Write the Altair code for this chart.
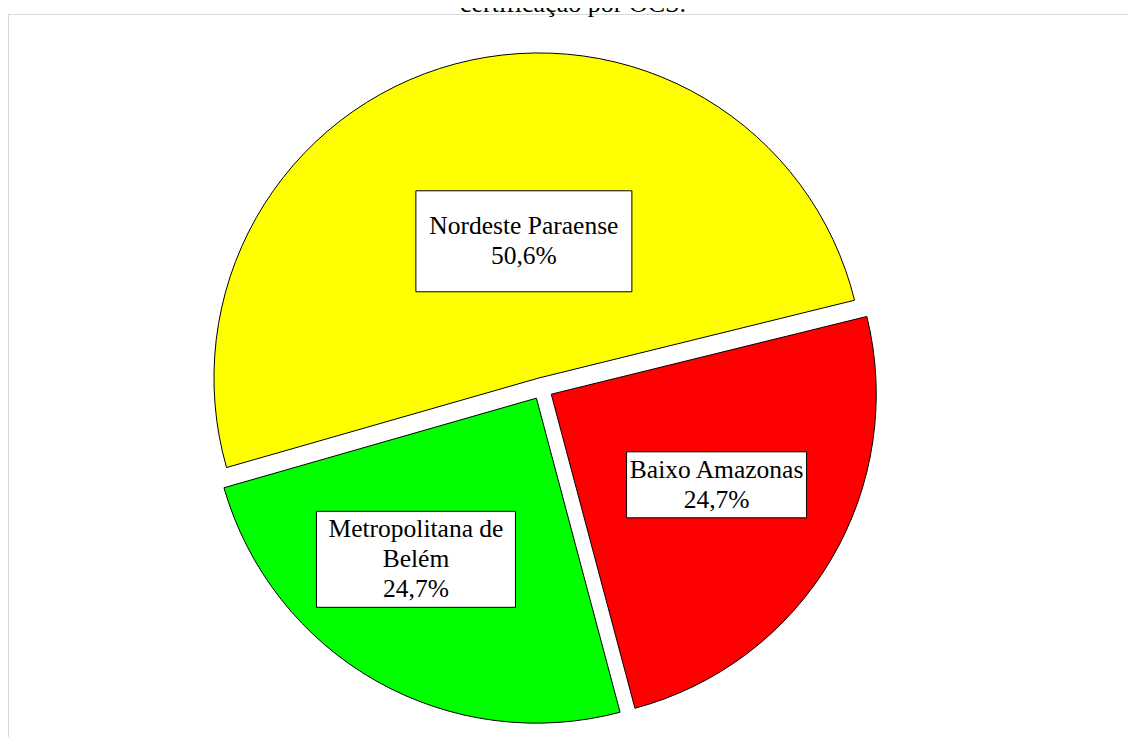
import math
import textwrap
import altair as alt
import pandas as pd

# ---- data ----
title_text = "certificação por OCS."
categories = ["Nordeste Paraense", "Baixo Amazonas", "Metropolitana de Belém"]
shares = [50.6, 24.7, 24.7]
colors = ["#FFFF00", "#FF0000", "#00FF00"]

# ---- layout / style ----
W, H = 1120, 729
CX, CY = 533.8, 380.6        # pie centre (canvas px)
R = 325                      # pie radius
EXPLODE = 11                 # slice explosion distance
START = math.radians(254.0)  # angle of first slice
FONT = "Liberation Serif"
FS = 25.5
LH = 30
# label box sizes and manual nudges (like dragged Excel data labels)
box_size = {
    "Nordeste Paraense": (216, 101),
    "Baixo Amazonas": (180, 66),
    "Metropolitana de Belém": (199, 96),
}
label_nudge = {
    "Nordeste Paraense": (20, -5),
    "Baixo Amazonas": (-3, -9),
    "Metropolitana de Belém": (-24, -9),
}

names = ["\n".join(textwrap.wrap(c, 17)) for c in categories]
df = pd.DataFrame({
    "cat": categories,
    "share": shares,
    "name": names,
    "bw": [box_size[c][0] for c in categories],
    "bh": [box_size[c][1] for c in categories],
    "ndx": [label_nudge[c][0] for c in categories],
    "ndy": [label_nudge[c][1] for c in categories],
})

base = (
    alt.Chart(df)
    .transform_window(idx="row_number()", cum="sum(share)", frame=[None, 0])
    .transform_joinaggregate(total="sum(share)")
    .transform_calculate(
        mid=f"{START} + 2*PI*(datum.cum - datum.share/2)/datum.total",
        half="PI*datum.share/datum.total",
        ox=f"{CX} + {EXPLODE}*sin(datum.mid)",
        oy=f"{CY} - {EXPLODE}*cos(datum.mid)",
        cd=f"2*{R}*sin(datum.half)/(3*datum.half) + {EXPLODE}",
        lx=f"{CX} + datum.cd*sin(datum.mid) + datum.ndx",
        ly=f"{CY} - datum.cd*cos(datum.mid) + datum.ndy",
        pct="replace(format(datum.share, '.1f'), '.', ',') + '%'",
        label="datum.name + '\\n' + datum.pct",
        nl="length(split(datum.label, '\\n'))",
        ty=f"datum.ly - (datum.nl - 1)*{LH}/2",
        bx1="datum.lx - datum.bw/2",
        bx2="datum.lx + datum.bw/2",
        by1="datum.ly - datum.bh/2",
        by2="datum.ly + datum.bh/2",
    )
)

arcs = base.mark_arc(radius=R, stroke="black", strokeWidth=1).encode(
    theta=alt.Theta("share:Q", stack=True,
                    scale=alt.Scale(range=[START, START + 2 * math.pi])),
    order=alt.Order("idx:Q"),
    color=alt.Color("cat:N", scale=alt.Scale(domain=categories, range=colors), legend=None),
    x=alt.X("ox:Q", scale=None),
    y=alt.Y("oy:Q", scale=None),
)

boxes = base.mark_rect(fill="white", stroke="black", strokeWidth=1).encode(
    x=alt.X("bx1:Q", scale=None), x2="bx2:Q",
    y=alt.Y("by1:Q", scale=None), y2="by2:Q",
)

texts = base.mark_text(font=FONT, fontSize=FS, lineHeight=LH, lineBreak="\n",
                       align="center", baseline="middle", color="black").encode(
    x=alt.X("lx:Q", scale=None),
    y=alt.Y("ty:Q", scale=None),
    text="label:N",
)

one = pd.DataFrame({"t": [title_text]})
title = alt.Chart(one).mark_text(font=FONT, fontSize=26, align="center",
                                 baseline="alphabetic", color="black").encode(
    x=alt.value(565), y=alt.value(4), text="t:N"
)

top_rule = alt.Chart(one).mark_rule(color="#d9d9d9", strokeWidth=1).encode(
    x=alt.value(0), x2=alt.value(W), y=alt.value(6.5)
)
left_rule = alt.Chart(one).mark_rule(color="#d9d9d9", strokeWidth=1).encode(
    x=alt.value(0.5), y=alt.value(6.5), y2=alt.value(H)
)

chart = (
    alt.layer(top_rule, left_rule, arcs, boxes, texts, title)
    .properties(width=W, height=H, padding=0, autosize="none")
    .configure_view(stroke=None)
)

chart.save("out.html", embed_options={"renderer": "svg", "actions": False})
